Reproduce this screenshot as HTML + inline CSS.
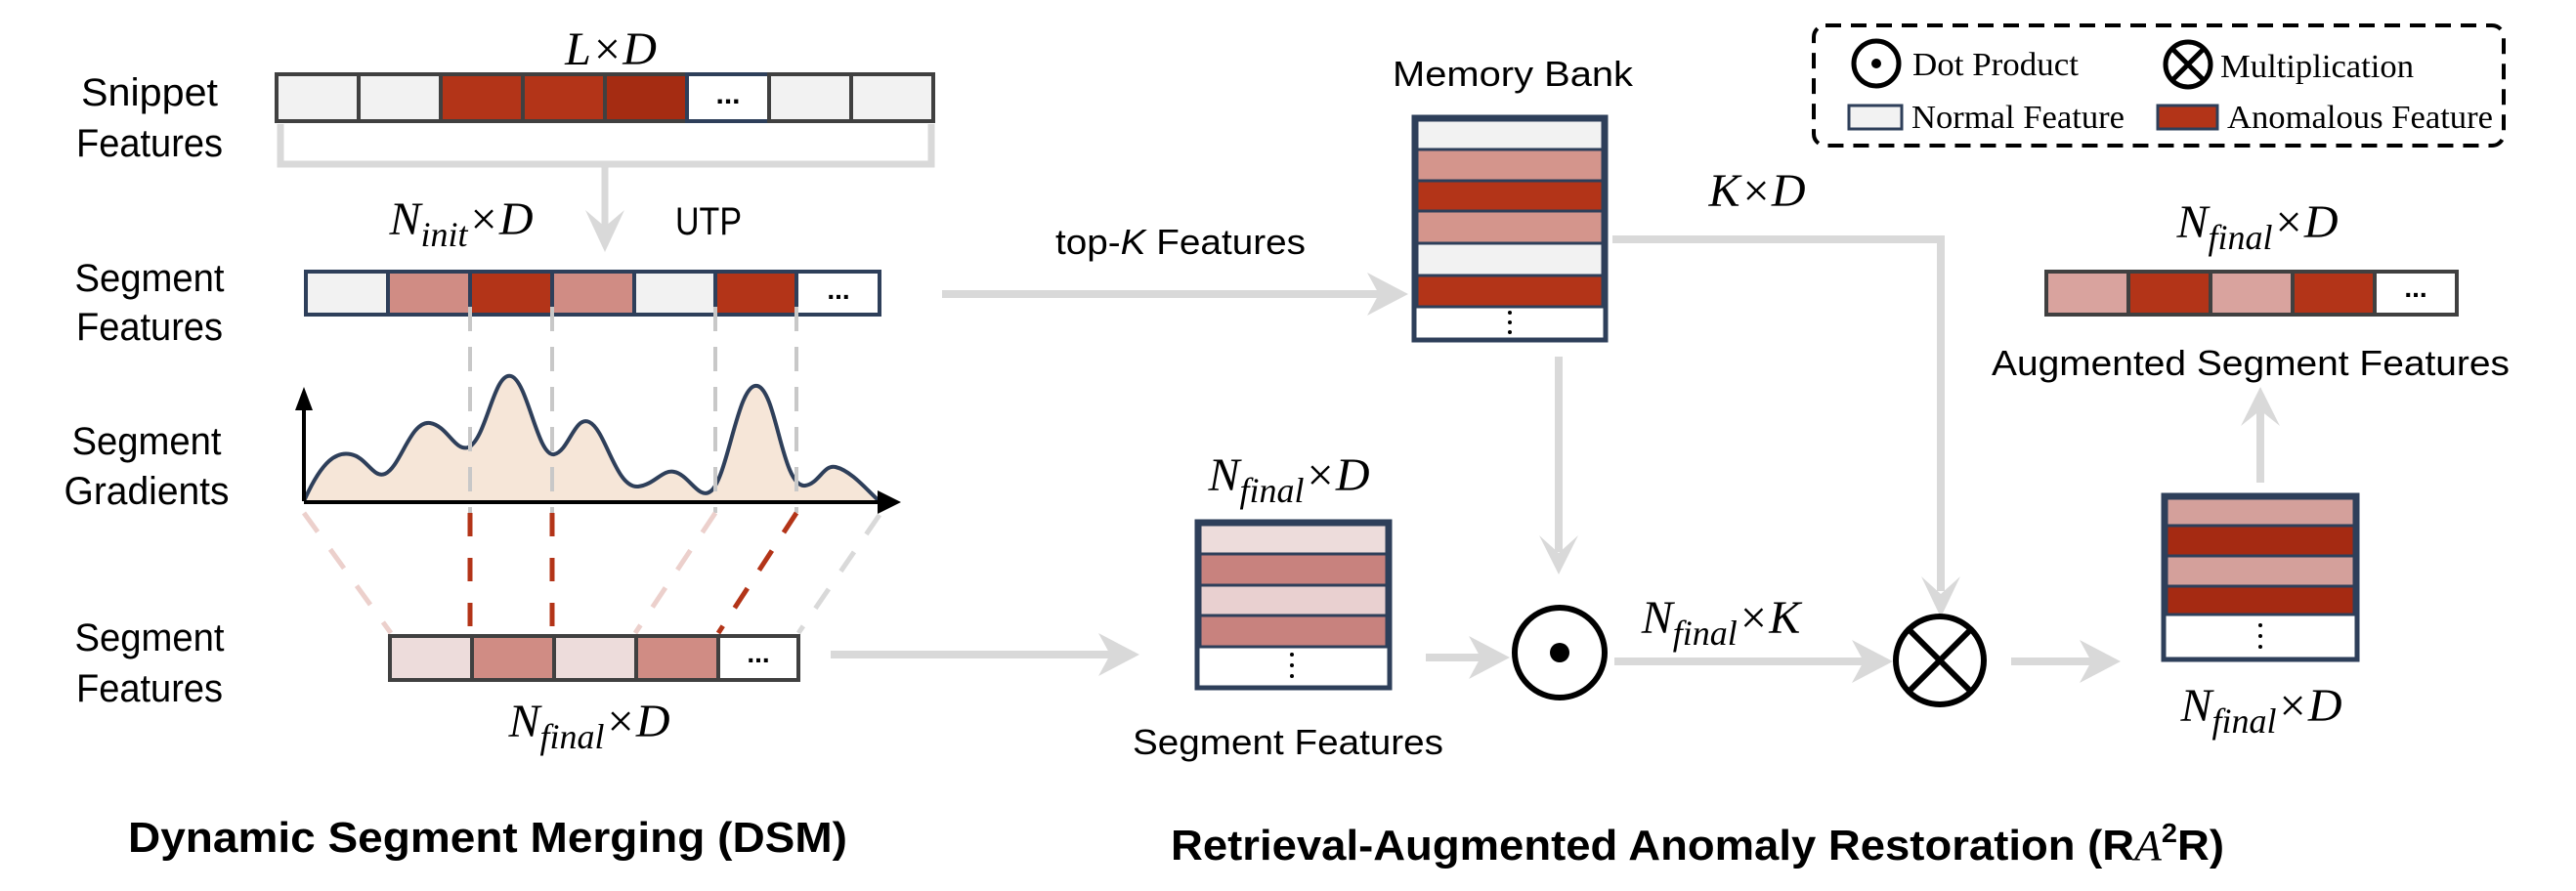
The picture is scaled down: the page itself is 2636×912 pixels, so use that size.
<!DOCTYPE html>
<html><head><meta charset="utf-8"><style>
html,body{margin:0;padding:0;background:#fff;}
svg{display:block;}
.s{font-family:"Liberation Sans",sans-serif;fill:#000;}
.m{font-family:"Liberation Serif",serif;font-style:italic;fill:#000;}
.r{font-family:"Liberation Serif",serif;fill:#000;}
</style></head><body>
<svg width="2636" height="912" viewBox="0 0 2636 912" xmlns="http://www.w3.org/2000/svg">
<defs>
<g id="ahR"><polygon points="0,0 -42,-22 -30,0 -42,22" fill="#d9d9d9"/></g>
</defs>

<!-- ===== DSM ===== -->
<text class="s" x="153" y="108" font-size="40" text-anchor="middle" textLength="140" lengthAdjust="spacingAndGlyphs">Snippet</text>
<text class="s" x="153" y="160" font-size="40" text-anchor="middle" textLength="150" lengthAdjust="spacingAndGlyphs">Features</text>
<text class="m" x="625" y="66" font-size="48" text-anchor="middle">L×D</text>

<g stroke="#404040" stroke-width="4">
<rect x="283" y="76" width="84" height="48" fill="#f2f2f2"/>
<rect x="367" y="76" width="84" height="48" fill="#f2f2f2"/>
<rect x="451" y="76" width="84" height="48" fill="#b33418"/>
<rect x="535" y="76" width="84" height="48" fill="#b33418"/>
<rect x="619" y="76" width="84" height="48" fill="#a52c12"/>
<rect x="703" y="76" width="84" height="48" fill="#fff" stroke="#2e3f5a"/>
<rect x="787" y="76" width="84" height="48" fill="#f2f2f2"/>
<rect x="871" y="76" width="84" height="48" fill="#f2f2f2"/>
</g>
<text class="s" x="745" y="106" font-size="30" font-weight="bold" text-anchor="middle">...</text>

<path d="M287,127 V168 H953 V127" fill="none" stroke="#d9d9d9" stroke-width="7"/>
<line x1="619" y1="168" x2="619" y2="240" stroke="#d9d9d9" stroke-width="7"/>
<polygon points="619,258 599,215 619,232 639,215" fill="#d9d9d9"/>

<text class="m" x="472" y="240" font-size="48" text-anchor="middle">N<tspan font-size="36" dy="12">init</tspan><tspan dy="-12">×D</tspan></text>
<text class="s" x="725" y="240" font-size="40" text-anchor="middle" textLength="68" lengthAdjust="spacingAndGlyphs">UTP</text>

<text class="s" x="153" y="298" font-size="40" text-anchor="middle" textLength="153" lengthAdjust="spacingAndGlyphs">Segment</text>
<text class="s" x="153" y="348" font-size="40" text-anchor="middle" textLength="150" lengthAdjust="spacingAndGlyphs">Features</text>
<g stroke="#2e3f5a" stroke-width="4">
<rect x="313" y="278" width="84" height="44" fill="#f2f2f2"/>
<rect x="397" y="278" width="84" height="44" fill="#d08c84"/>
<rect x="481" y="278" width="84" height="44" fill="#b33418"/>
<rect x="565" y="278" width="84" height="44" fill="#d08c84"/>
<rect x="649" y="278" width="83" height="44" fill="#f2f2f2"/>
<rect x="732" y="278" width="83" height="44" fill="#b33418"/>
<rect x="815" y="278" width="85" height="44" fill="#fff"/>
</g>
<text class="s" x="858" y="306" font-size="28" font-weight="bold" text-anchor="middle">...</text>

<text class="s" x="150" y="465" font-size="40" text-anchor="middle" textLength="153" lengthAdjust="spacingAndGlyphs">Segment</text>
<text class="s" x="150" y="516" font-size="40" text-anchor="middle" textLength="169" lengthAdjust="spacingAndGlyphs">Gradients</text>
<path d="M311,513 C330,470 345,462 359,465 C375,468 382,490 394,485 C410,478 420,430 440,433 C458,436 465,462 479,458 C498,450 505,380 523,385 C540,390 550,468 567,465 C582,462 588,425 603,432 C620,440 630,500 653,498 C670,496 678,480 690,483 C705,486 715,512 727,503 C745,490 755,390 775,395 C795,400 800,500 824,497 C838,495 843,475 855,478 C872,482 890,505 900,513 Z" fill="#f6e6d8" stroke="none"/>
<path d="M311,513 C330,470 345,462 359,465 C375,468 382,490 394,485 C410,478 420,430 440,433 C458,436 465,462 479,458 C498,450 505,380 523,385 C540,390 550,468 567,465 C582,462 588,425 603,432 C620,440 630,500 653,498 C670,496 678,480 690,483 C705,486 715,512 727,503 C745,490 755,390 775,395 C795,400 800,500 824,497 C838,495 843,475 855,478 C872,482 890,505 900,513" fill="none" stroke="#2e3f5a" stroke-width="4"/>
<line x1="311" y1="513" x2="311" y2="410" stroke="#000" stroke-width="4"/>
<polygon points="311,396 302,420 320,420" fill="#000"/>
<line x1="311" y1="514" x2="905" y2="514" stroke="#000" stroke-width="4"/>
<polygon points="922,514 898,502 898,526" fill="#000"/>

<g stroke="#c8c8c8" stroke-width="4" stroke-dasharray="25,16">
<line x1="481" y1="314" x2="481" y2="525"/>
<line x1="565" y1="314" x2="565" y2="525"/>
<line x1="732" y1="314" x2="732" y2="525"/>
<line x1="815" y1="314" x2="815" y2="525"/>
</g>
<g stroke-width="5" stroke-dasharray="24,22" fill="none">
<line x1="311" y1="525" x2="400" y2="648" stroke="#ecd0cc"/>
<line x1="481" y1="525" x2="481" y2="648" stroke="#b33418"/>
<line x1="565" y1="525" x2="565" y2="648" stroke="#b33418"/>
<line x1="732" y1="525" x2="650" y2="648" stroke="#ecd0cc"/>
<line x1="815" y1="525" x2="735" y2="648" stroke="#b33418"/>
<line x1="900" y1="527" x2="817" y2="648" stroke="#d9d9d9"/>
</g>

<text class="s" x="153" y="666" font-size="40" text-anchor="middle" textLength="153" lengthAdjust="spacingAndGlyphs">Segment</text>
<text class="s" x="153" y="718" font-size="40" text-anchor="middle" textLength="150" lengthAdjust="spacingAndGlyphs">Features</text>
<g stroke="#404040" stroke-width="4">
<rect x="399" y="651" width="84" height="45" fill="#eddcdb"/>
<rect x="483" y="651" width="84" height="45" fill="#d08c84"/>
<rect x="567" y="651" width="84" height="45" fill="#eddcdb"/>
<rect x="651" y="651" width="84" height="45" fill="#d08c84"/>
<rect x="735" y="651" width="82" height="45" fill="#fff"/>
</g>
<text class="s" x="776" y="678" font-size="28" font-weight="bold" text-anchor="middle">...</text>
<text class="m" x="603" y="754" font-size="48" text-anchor="middle">N<tspan font-size="36" dy="12">final</tspan><tspan dy="-12">×D</tspan></text>

<text class="s" x="499" y="872" font-size="44" font-weight="bold" text-anchor="middle" textLength="736" lengthAdjust="spacingAndGlyphs">Dynamic Segment Merging  (DSM)</text>

<!-- ===== RA2R ===== -->
<text class="s" x="1208" y="260" font-size="36" text-anchor="middle" textLength="256" lengthAdjust="spacingAndGlyphs">top-<tspan font-style="italic">K</tspan> Features</text>
<line x1="964" y1="301" x2="1415" y2="301" stroke="#d9d9d9" stroke-width="8"/>
<use href="#ahR" x="1441" y="301"/>

<text class="s" x="1548" y="88" font-size="36" text-anchor="middle" textLength="246" lengthAdjust="spacingAndGlyphs">Memory Bank</text>
<rect x="1447" y="120" width="196" height="228" fill="#fff" stroke="#2e3f5a" stroke-width="5"/>
<g stroke="#2e3f5a" stroke-width="3">
<rect x="1450" y="123" width="190" height="30" fill="#f2f2f2"/>
<rect x="1450" y="153" width="190" height="32" fill="#d4958c"/>
<rect x="1450" y="185" width="190" height="31" fill="#b33418"/>
<rect x="1450" y="216" width="190" height="33" fill="#d4958c"/>
<rect x="1450" y="249" width="190" height="33" fill="#f2f2f2"/>
<rect x="1450" y="282" width="190" height="32" fill="#b33418"/>
</g>
<g fill="#000"><circle cx="1545" cy="320" r="2"/><circle cx="1545" cy="330" r="2"/><circle cx="1545" cy="340" r="2"/></g>

<text class="m" x="1798" y="211" font-size="48" text-anchor="middle">K×D</text>
<path d="M1650,245 H1986 V605" fill="none" stroke="#d9d9d9" stroke-width="8"/>
<polygon points="1986,632 1966,590 1986,608 2006,590" fill="#d9d9d9"/>

<line x1="1595" y1="365" x2="1595" y2="565" stroke="#d9d9d9" stroke-width="8"/>
<polygon points="1595,588 1575,548 1595,566 1615,548" fill="#d9d9d9"/>

<text class="m" x="1319" y="502" font-size="48" text-anchor="middle">N<tspan font-size="36" dy="12">final</tspan><tspan dy="-12">×D</tspan></text>
<rect x="1225" y="534" width="197" height="170" fill="#fff" stroke="#2e3f5a" stroke-width="5"/>
<g stroke="#2e3f5a" stroke-width="3">
<rect x="1228" y="537" width="191" height="30" fill="#eddcdb"/>
<rect x="1228" y="567" width="191" height="32" fill="#c8827e"/>
<rect x="1228" y="599" width="191" height="31" fill="#e9d0d0"/>
<rect x="1228" y="630" width="191" height="32" fill="#c8827e"/>
</g>
<g fill="#000"><circle cx="1322" cy="670" r="2"/><circle cx="1322" cy="681" r="2"/><circle cx="1322" cy="692" r="2"/></g>
<text class="s" x="1318" y="772" font-size="36" text-anchor="middle" textLength="318" lengthAdjust="spacingAndGlyphs">Segment Features</text>

<line x1="850" y1="670" x2="1140" y2="670" stroke="#d9d9d9" stroke-width="8"/>
<use href="#ahR" x="1166" y="670"/>
<line x1="1459" y1="673" x2="1520" y2="673" stroke="#d9d9d9" stroke-width="8"/>
<use href="#ahR" x="1545" y="673"/>

<circle cx="1596" cy="668" r="46" fill="#fff" stroke="#000" stroke-width="6"/>
<circle cx="1596" cy="668" r="10" fill="#000"/>

<text class="m" x="1761" y="648" font-size="48" text-anchor="middle">N<tspan font-size="36" dy="12">final</tspan><tspan dy="-12">×K</tspan></text>
<line x1="1652" y1="677" x2="1915" y2="677" stroke="#d9d9d9" stroke-width="8"/>
<use href="#ahR" x="1937" y="677"/>

<circle cx="1985" cy="676" r="45" fill="#fff" stroke="#000" stroke-width="6"/>
<line x1="1953" y1="644" x2="2017" y2="708" stroke="#000" stroke-width="6"/>
<line x1="2017" y1="644" x2="1953" y2="708" stroke="#000" stroke-width="6"/>

<line x1="2058" y1="677" x2="2145" y2="677" stroke="#d9d9d9" stroke-width="8"/>
<use href="#ahR" x="2170" y="677"/>

<rect x="2214" y="507" width="198" height="168" fill="#fff" stroke="#2e3f5a" stroke-width="5"/>
<g stroke="#2e3f5a" stroke-width="3">
<rect x="2217" y="510" width="192" height="28" fill="#d4a09b"/>
<rect x="2217" y="538" width="192" height="31" fill="#a52a12"/>
<rect x="2217" y="569" width="192" height="31" fill="#d4a09b"/>
<rect x="2217" y="600" width="192" height="29" fill="#a52a12"/>
</g>
<g fill="#000"><circle cx="2313" cy="640" r="2"/><circle cx="2313" cy="651" r="2"/><circle cx="2313" cy="662" r="2"/></g>
<text class="m" x="2314" y="738" font-size="48" text-anchor="middle">N<tspan font-size="36" dy="12">final</tspan><tspan dy="-12">×D</tspan></text>

<line x1="2313" y1="494" x2="2313" y2="420" stroke="#d9d9d9" stroke-width="8"/>
<polygon points="2313,396 2293,436 2313,420 2333,436" fill="#d9d9d9"/>

<text class="s" x="2303" y="384" font-size="36" text-anchor="middle" textLength="530" lengthAdjust="spacingAndGlyphs">Augmented Segment Features</text>

<g stroke="#404040" stroke-width="4">
<rect x="2094" y="278" width="84" height="44" fill="#d9a39e"/>
<rect x="2178" y="278" width="84" height="44" fill="#b33418"/>
<rect x="2262" y="278" width="84" height="44" fill="#d9a39e"/>
<rect x="2346" y="278" width="84" height="44" fill="#b33418"/>
<rect x="2430" y="278" width="84" height="44" fill="#fff"/>
</g>
<text class="s" x="2472" y="304" font-size="28" font-weight="bold" text-anchor="middle">...</text>
<text class="m" x="2310" y="243" font-size="48" text-anchor="middle">N<tspan font-size="36" dy="12">final</tspan><tspan dy="-12">×D</tspan></text>

<text class="s" x="1198" y="880" font-size="44" font-weight="bold" textLength="1078" lengthAdjust="spacingAndGlyphs">Retrieval-Augmented Anomaly Restoration (R<tspan font-family="Liberation Serif" font-style="italic" font-weight="normal">A</tspan><tspan font-size="28" dy="-18">2</tspan><tspan dy="18">R)</tspan></text>

<rect x="1856" y="26" width="706" height="123" rx="12" ry="12" fill="none" stroke="#000" stroke-width="4" stroke-dasharray="16,10"/>
<circle cx="1920" cy="65" r="23" fill="#fff" stroke="#000" stroke-width="5"/>
<circle cx="1920" cy="65" r="5" fill="#000"/>
<text class="r" x="1957" y="77" font-size="34" textLength="170" lengthAdjust="spacingAndGlyphs">Dot Product</text>
<circle cx="2239" cy="66" r="23" fill="#fff" stroke="#000" stroke-width="5"/>
<line x1="2223" y1="50" x2="2255" y2="82" stroke="#000" stroke-width="5"/>
<line x1="2255" y1="50" x2="2223" y2="82" stroke="#000" stroke-width="5"/>
<text class="r" x="2272" y="79" font-size="34" textLength="198" lengthAdjust="spacingAndGlyphs">Multiplication</text>
<rect x="1892" y="108" width="54" height="24" fill="#f2f2f2" stroke="#2e3f5a" stroke-width="3"/>
<text class="r" x="1956" y="131" font-size="34" textLength="218" lengthAdjust="spacingAndGlyphs">Normal Feature</text>
<rect x="2208" y="108" width="61" height="24" fill="#b33418" stroke="#2e3f5a" stroke-width="3"/>
<text class="r" x="2279" y="131" font-size="34" textLength="272" lengthAdjust="spacingAndGlyphs">Anomalous Feature</text>
</svg>
</body></html>
